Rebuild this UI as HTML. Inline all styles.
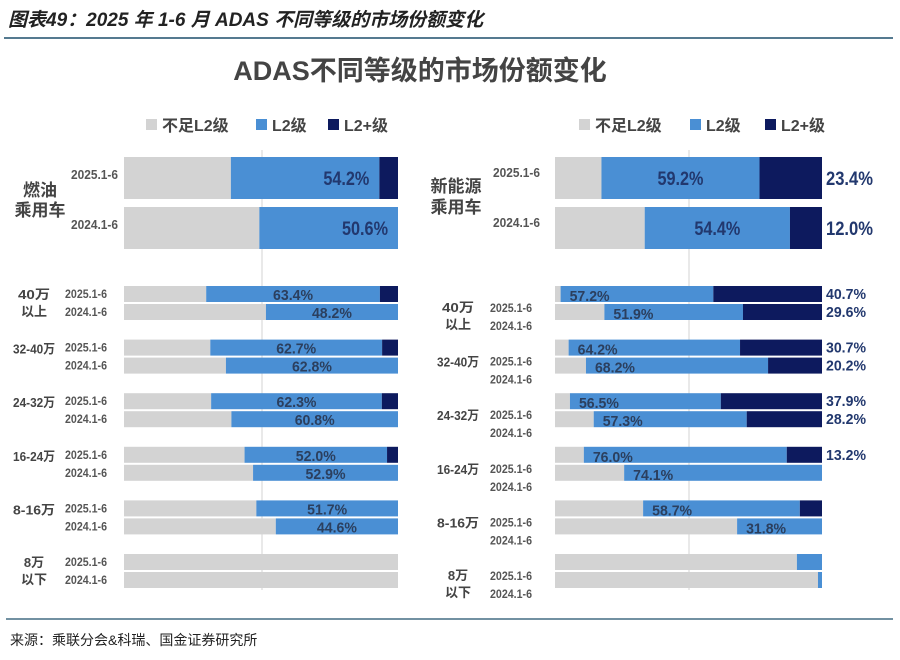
<!DOCTYPE html>
<html><head><meta charset="utf-8">
<style>
html,body{margin:0;padding:0;background:#fff;}
body{width:900px;height:655px;overflow:hidden;position:relative;font-family:"Liberation Sans","Noto Sans CJK SC",sans-serif;}
svg text{font-family:"Liberation Sans","Noto Sans CJK SC",sans-serif;}
.cond{font-family:"DejaVu Sans Condensed","Liberation Sans Narrow","Liberation Sans","Noto Sans CJK SC",sans-serif !important;}
</style></head>
<body>
<svg id="chart" width="900" height="655" viewBox="0 0 900 655" xmlns="http://www.w3.org/2000/svg">
  <text x="8" y="26" font-size="19" font-weight="bold" font-style="italic" fill="#222">图表49：2025 年 1-6 月 ADAS 不同等级的市场份额变化</text>
  <line x1="4" y1="38" x2="893" y2="38" stroke="#1d4f6b" stroke-width="1.5"/>
  <text x="420" y="80" text-anchor="middle" font-size="27" font-weight="bold" fill="#444">ADAS不同等级的市场份额变化</text>
  <line x1="6" y1="619" x2="893" y2="619" stroke="#1d4f6b" stroke-width="1.2"/>
  <text x="10" y="645" font-size="14" fill="#222">来源：乘联分会&amp;科瑞、国金证券研究所</text>

  <g>
    <rect x="146" y="119" width="11" height="11" fill="#d3d3d3"/>
    <text x="162" y="131" font-size="16" font-weight="bold" fill="#444">不足L2级</text>
    <rect x="256" y="119" width="11" height="11" fill="#4a8fd4"/>
    <text x="272" y="131" font-size="16" font-weight="bold" fill="#444">L2级</text>
    <rect x="328" y="119" width="11" height="11" fill="#0d1a5e"/>
    <text x="344" y="131" font-size="16" font-weight="bold" fill="#444">L2+级</text>
  </g>
  <g>
    <rect x="579" y="119" width="11" height="11" fill="#d3d3d3"/>
    <text x="595" y="131" font-size="16" font-weight="bold" fill="#444">不足L2级</text>
    <rect x="690" y="119" width="11" height="11" fill="#4a8fd4"/>
    <text x="706" y="131" font-size="16" font-weight="bold" fill="#444">L2级</text>
    <rect x="765" y="119" width="11" height="11" fill="#0d1a5e"/>
    <text x="781" y="131" font-size="16" font-weight="bold" fill="#444">L2+级</text>
  </g>

  <g font-weight="bold" fill="#444">
    <text x="40" y="196" font-size="17" text-anchor="middle">燃油</text>
    <text x="40" y="216" font-size="17" text-anchor="middle">乘用车</text>
    <text x="456" y="192" font-size="17" text-anchor="middle">新能源</text>
    <text x="456" y="213" font-size="17" text-anchor="middle">乘用车</text>
  </g>
  <g id="layer"></g>
</svg>
<script>
// ---- data ----
const years = ["2025.1-6", "2024.1-6"];
const groups = ["40万|以上", "32-40万", "24-32万", "16-24万", "8-16万", "8万|以下"];
const ltL2 = [54.2, 50.6];
const ltL2p = [6.8, 0];
const rtL2 = [59.2, 54.4];
const rtL2p = [23.4, 12.0];
const lbL2 = [63.4, 48.2, 62.7, 62.8, 62.3, 60.8, 52.0, 52.9, 51.7, 44.6, 0, 0];
const lbL2p = [6.6, 0, 5.8, 0, 5.9, 0, 4.0, 0, 0, 0, 0, 0];
const rbL2 = [57.2, 51.9, 64.2, 68.2, 56.5, 57.3, 76.0, 74.1, 58.7, 31.8, 9.4, 1.5];
const rbL2p = [40.7, 29.6, 30.7, 20.2, 37.9, 28.2, 13.2, 0, 8.3, 0, 0, 0];
const rbL2pLabelShown = [true, true, true, true, true, true, true, false, false, false, false, false];

const NS = "http://www.w3.org/2000/svg";
const layer = document.getElementById('layer');
const C = {grey: "#d3d3d3", l2: "#4a8fd4", l2p: "#0d1a5e", lab: "#22386e"};
function mk(tag, attrs, parent) {
  const e = document.createElementNS(NS, tag);
  for (const k in attrs) e.setAttribute(k, attrs[k]);
  (parent || layer).appendChild(e);
  return e;
}
function scale(x0, x1) { return v => x0 + (x1 - x0) * v / 100; }

function stack(sx, y, h, l2, l2p, name) {
  const g = mk('g', {});
  
  
  const grey = 100 - l2 - l2p;
  const r1 = mk('rect', {x: sx(0), y: y, width: sx(grey) - sx(0), height: h, fill: C.grey}, g);
  
  
  if (l2 > 0) {
    const r2 = mk('rect', {x: sx(grey), y: y, width: sx(grey + l2) - sx(grey), height: h, fill: C.l2}, g);
    
    
  }
  if (l2p > 0) {
    const r3 = mk('rect', {x: sx(grey + l2), y: y, width: sx(100) - sx(grey + l2), height: h, fill: C.l2p}, g);
    
    
  }
  return {greyEnd: sx(grey), l2End: sx(grey + l2)};
}
function txt(x, y, s, size, anchor, fill, name, len, weight) {
  const t = mk('text', {x: x, y: y, 'font-size': size, 'text-anchor': anchor || 'start', fill: fill, 'font-weight': weight || 'bold'});
  if (len) { t.setAttribute('textLength', len); t.setAttribute('lengthAdjust', 'spacingAndGlyphs'); }
  
  
  t.textContent = s;
  return t;
}

// gridlines
const gl1 = mk('line', {x1: 262, y1: 150, x2: 262, y2: 590, stroke: "#c8c8c8", 'stroke-width': 0.8});


const gl2 = mk('line', {x1: 689, y1: 150, x2: 689, y2: 590, stroke: "#c8c8c8", 'stroke-width': 0.8});



// top
const sxL = scale(124, 398), sxR = scale(555, 822);
const topY = [157, 207];
for (let i = 0; i < 2; i++) {
  const p = stack(sxL, topY[i], 42, ltL2[i], ltL2p[i], 'ice-bar-' + years[i]);
  txt(p.l2End - 10, topY[i] + 28, ltL2[i].toFixed(1) + '%', 19, 'end', C.lab, 'ice-l2-label', 46);
  txt(118, topY[i] + 22, years[i], 13, 'end', "#555", 'ice-year-label', 47);
  const q = stack(sxR, topY[i], 42, rtL2[i], rtL2p[i], 'nev-bar-' + years[i]);
  txt((q.greyEnd + q.l2End) / 2, topY[i] + 28, rtL2[i].toFixed(1) + '%', 19, 'middle', C.lab, 'nev-l2-label', 46);
  txt(826, topY[i] + 28, rtL2p[i].toFixed(1) + '%', 19, 'start', C.lab, 'nev-l2-plus-label', 47);
  txt(540, topY[i] + 20, years[i], 13, 'end', "#555", 'nev-year-label', 47);
}

// bottom
for (let gi = 0; gi < groups.length; gi++) {
  const gy = 286 + gi * 53.6;
  const parts = groups[gi].split('|');
  parts.forEach((s, k) => {
    const len = s.length > 3 ? 42 : (s.length === 3 ? 32 : null);
    const yOff = parts.length === 1 ? 14 : 13 + k * 17;
    txt(34, gy + yOff, s, 13, 'middle', "#444", 'left-group-label', len);
    const yR = parts.length === 1 ? 27 : 26 + k * 17;
    txt(458, gy + yR, s, 13, 'middle', "#444", 'right-group-label', len);
  });
  for (let j = 0; j < 2; j++) {
    const idx = gi * 2 + j;
    const y = gy + j * 18;
    const p = stack(sxL, y, 16, lbL2[idx], lbL2p[idx], 'ice-' + idx);
    if (lbL2[idx] > 20) txt((p.greyEnd + p.l2End) / 2, y + 14, lbL2[idx].toFixed(1) + '%', 15, 'middle', "#2b3f5e", 'ice-seg-l2-label', 40);
    txt(107, y + 12, years[j], 12, 'end', "#555", 'ice-seg-year', 42);
    const q = stack(sxR, y, 16, rbL2[idx], rbL2p[idx], 'nev-' + idx);
    if (rbL2[idx] > 20) txt(q.greyEnd + 9, y + 15, rbL2[idx].toFixed(1) + '%', 15, 'start', "#2b3f5e", 'nev-seg-l2-label', 40);
    if (rbL2pLabelShown[idx]) txt(826, y + 13, rbL2p[idx].toFixed(1) + '%', 15, 'start', C.lab, 'nev-seg-l2-plus-label', 40);
    txt(532, y + 26, years[j], 12, 'end', "#555", 'nev-seg-year', 42);
  }
}
</script>
</body></html>
